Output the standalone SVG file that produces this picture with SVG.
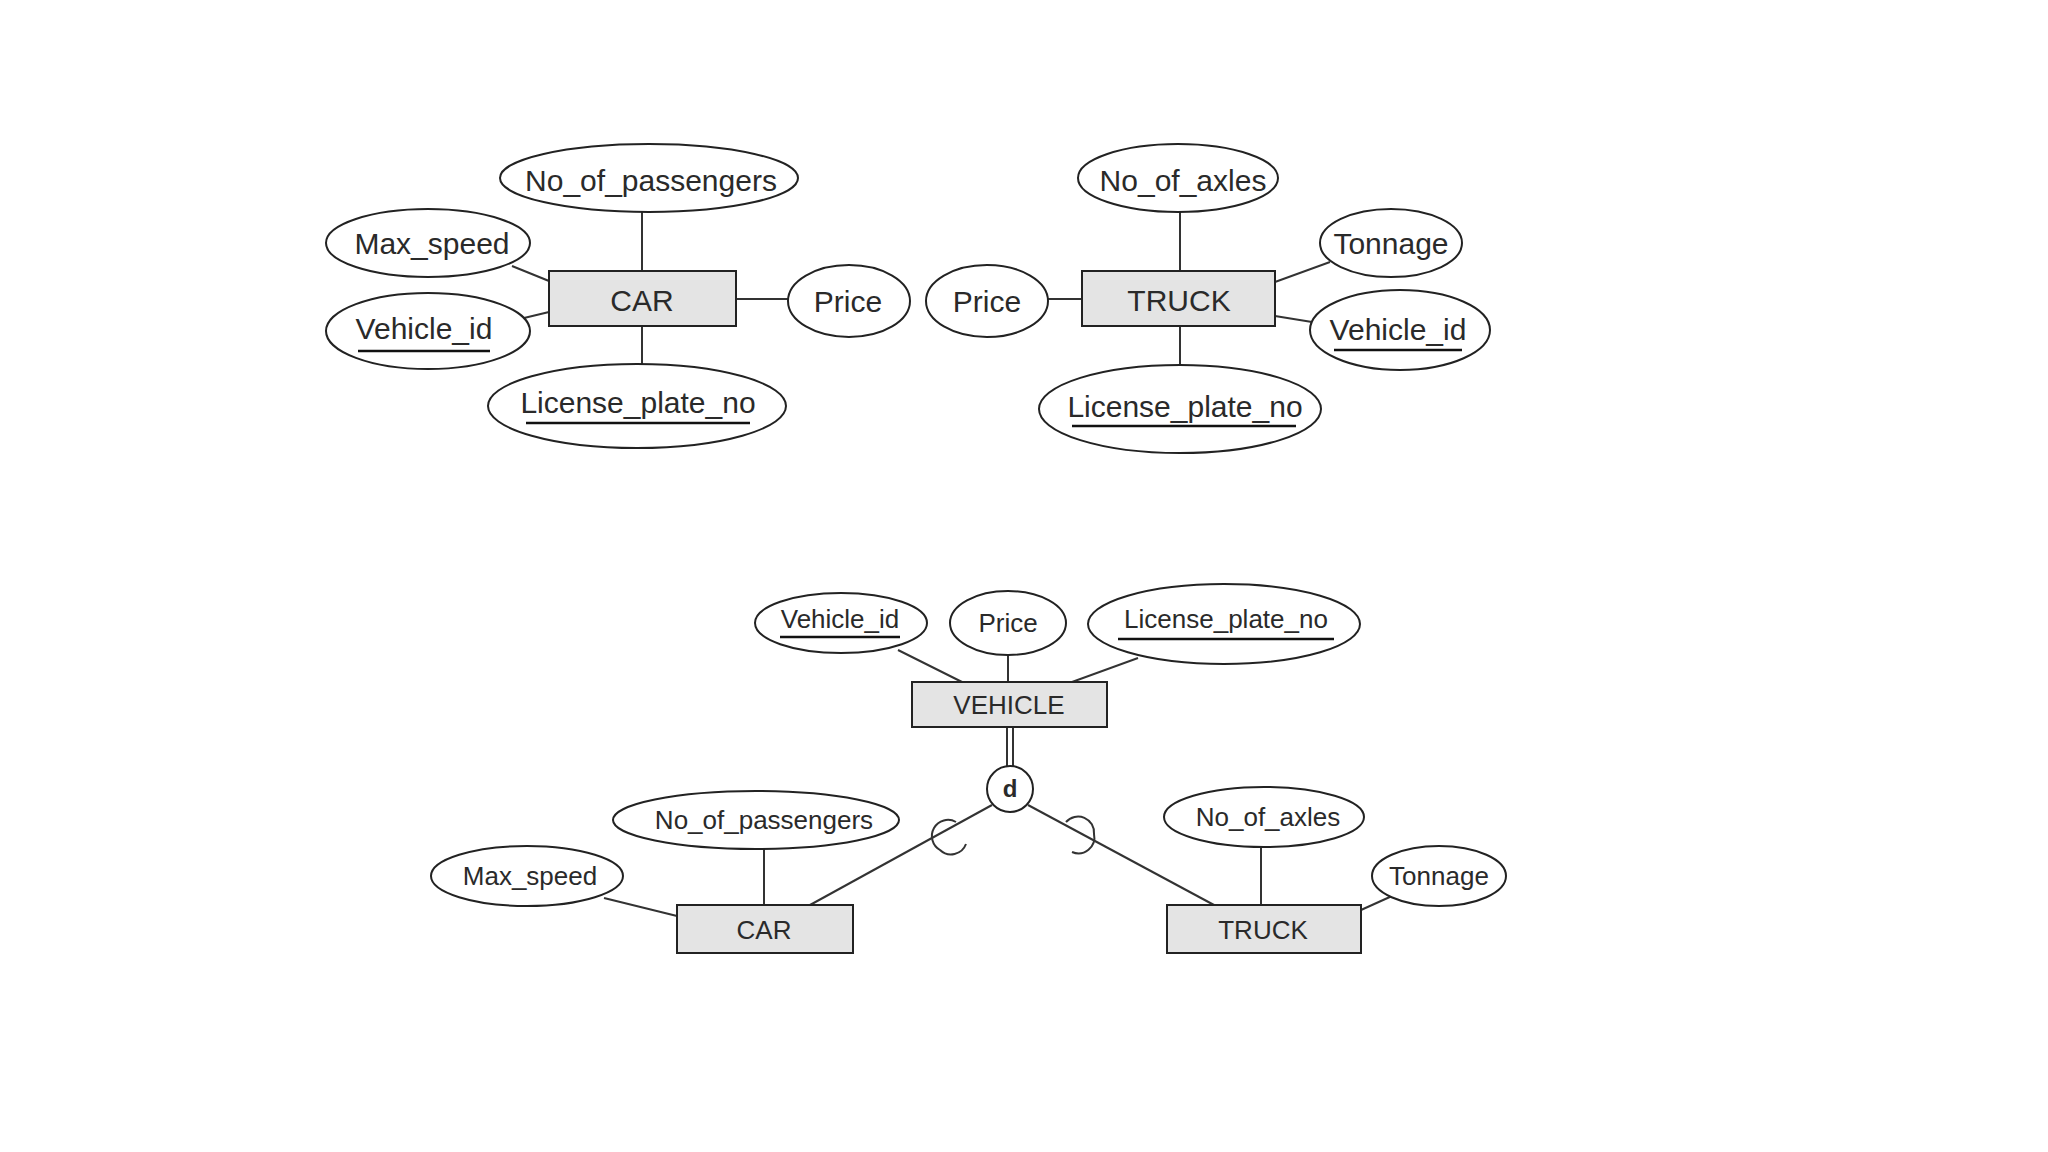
<svg xmlns="http://www.w3.org/2000/svg" width="2048" height="1152" viewBox="0 0 2048 1152">
<style>
rect.e{fill:#e4e4e4;stroke:#222;stroke-width:2}
ellipse{fill:#fff;stroke:#222;stroke-width:2}
line,path{stroke:#333;stroke-width:2;fill:none}
text{font-family:"Liberation Sans",Arial,sans-serif;fill:#2a2a2a;text-anchor:middle;dominant-baseline:central}
.t{font-size:30px}
.b{font-size:26px}
.u{stroke:#111;stroke-width:2.5}
</style>
<rect width="2048" height="1152" fill="#fff"/>
<g id="connectors">
<line x1="642" y1="212" x2="642" y2="271"/>
<line x1="512" y1="266" x2="549" y2="281"/>
<line x1="524" y1="318" x2="549" y2="312"/>
<line x1="642" y1="326" x2="642" y2="364"/>
<line x1="736" y1="299" x2="788" y2="299"/>
<line x1="1048" y1="299" x2="1082" y2="299"/>
<line x1="1180" y1="212" x2="1180" y2="271"/>
<line x1="1275" y1="282" x2="1330" y2="262"/>
<line x1="1275" y1="316" x2="1312" y2="322"/>
<line x1="1180" y1="326" x2="1180" y2="365"/>
<line x1="898" y1="650" x2="962" y2="682"/>
<line x1="1008" y1="655" x2="1008" y2="682"/>
<line x1="1138" y1="658" x2="1072" y2="682"/>
<line x1="1007" y1="727" x2="1007" y2="766"/>
<line x1="1013" y1="727" x2="1013" y2="766"/>
<line x1="992" y1="805" x2="810" y2="905"/>
<line x1="1028" y1="805" x2="1214" y2="905"/>
<path d="M956 822 A16 16 0 0 0 940 850 A16 16 0 0 0 966 844"/>
<path d="M1066 822 A16 16 0 0 1 1094 834 A16 16 0 0 1 1072 852"/>
<line x1="764" y1="849" x2="764" y2="905"/>
<line x1="604" y1="898" x2="677" y2="916"/>
<line x1="1261" y1="847" x2="1261" y2="905"/>
<line x1="1361" y1="910" x2="1392" y2="896"/>
</g>
<g id="car1"><rect class="e" x="549" y="271" width="187" height="55"/><text class="t" x="642" y="300">CAR</text></g>
<g id="car1_nop"><ellipse cx="649" cy="178" rx="149" ry="34"/><text class="t" x="651" y="180">No_of_passengers</text></g>
<g id="car1_ms"><ellipse cx="428" cy="243" rx="102" ry="34"/><text class="t" x="432" y="243">Max_speed</text></g>
<g id="car1_vid"><ellipse cx="428" cy="331" rx="102" ry="38"/><text class="t" x="424" y="328">Vehicle_id</text><line class="u" x1="358" y1="351" x2="490" y2="351"/></g>
<g id="car1_lpn"><ellipse cx="637" cy="406" rx="149" ry="42"/><text class="t" x="638" y="402">License_plate_no</text><line class="u" x1="526" y1="423" x2="750" y2="423"/></g>
<g id="car1_price"><ellipse cx="849" cy="301" rx="61" ry="36"/><text class="t" x="848" y="301">Price</text></g>
<g id="truck1"><rect class="e" x="1082" y="271" width="193" height="55"/><text class="t" x="1179" y="300">TRUCK</text></g>
<g id="truck1_price"><ellipse cx="987" cy="301" rx="61" ry="36"/><text class="t" x="987" y="301">Price</text></g>
<g id="truck1_noa"><ellipse cx="1178" cy="178" rx="100" ry="34"/><text class="t" x="1183" y="180">No_of_axles</text></g>
<g id="truck1_ton"><ellipse cx="1391" cy="243" rx="71" ry="34"/><text class="t" x="1391" y="243">Tonnage</text></g>
<g id="truck1_vid"><ellipse cx="1400" cy="330" rx="90" ry="40"/><text class="t" x="1398" y="329">Vehicle_id</text><line class="u" x1="1334" y1="350" x2="1462" y2="350"/></g>
<g id="truck1_lpn"><ellipse cx="1180" cy="409" rx="141" ry="44"/><text class="t" x="1185" y="406">License_plate_no</text><line class="u" x1="1072" y1="426" x2="1296" y2="426"/></g>
<g id="vehicle"><rect class="e" x="912" y="682" width="195" height="45"/><text class="b" x="1009" y="705">VEHICLE</text></g>
<g id="v_vid"><ellipse cx="841" cy="623" rx="86" ry="30"/><text class="b" x="840" y="619">Vehicle_id</text><line class="u" x1="780" y1="637" x2="900" y2="637"/></g>
<g id="v_price"><ellipse cx="1008" cy="623" rx="58" ry="32"/><text class="b" x="1008" y="623">Price</text></g>
<g id="v_lpn"><ellipse cx="1224" cy="624" rx="136" ry="40"/><text class="b" x="1226" y="619">License_plate_no</text><line class="u" x1="1118" y1="639" x2="1334" y2="639"/></g>
<g id="d"><circle cx="1010" cy="789" r="23" fill="#fff" stroke="#222" stroke-width="2"/><text x="1010" y="788" font-size="24" font-weight="bold">d</text></g>
<g id="car2"><rect class="e" x="677" y="905" width="176" height="48"/><text class="b" x="764" y="930">CAR</text></g>
<g id="car2_nop"><ellipse cx="756" cy="820" rx="143" ry="29"/><text class="b" x="764" y="820">No_of_passengers</text></g>
<g id="car2_ms"><ellipse cx="527" cy="876" rx="96" ry="30"/><text class="b" x="530" y="876">Max_speed</text></g>
<g id="truck2"><rect class="e" x="1167" y="905" width="194" height="48"/><text class="b" x="1263" y="930">TRUCK</text></g>
<g id="truck2_noa"><ellipse cx="1264" cy="817" rx="100" ry="30"/><text class="b" x="1268" y="817">No_of_axles</text></g>
<g id="truck2_ton"><ellipse cx="1439" cy="876" rx="67" ry="30"/><text class="b" x="1439" y="876">Tonnage</text></g>
</svg>
